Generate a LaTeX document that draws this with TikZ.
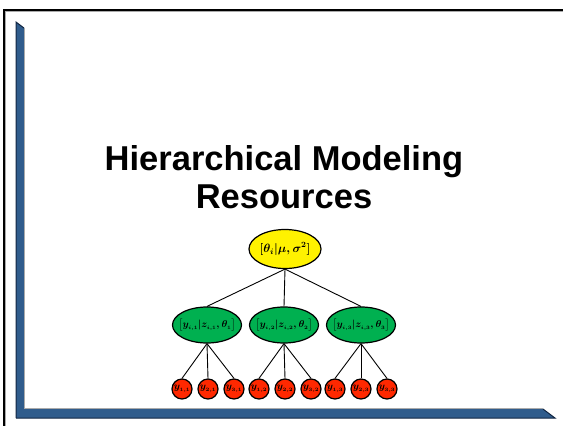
\documentclass[tikz,border=0pt]{standalone}
\usepackage{fontspec}
\setmainfont{Liberation Serif}
\newfontfamily\titlefont{Liberation Sans}
\usetikzlibrary{shapes.geometric}
\definecolor{barblue}{RGB}{48,92,140}
\definecolor{bardark}{RGB}{18,38,66}
\definecolor{nodegreen}{RGB}{0,176,80}
\definecolor{nodered}{RGB}{255,40,0}
\definecolor{shadowgray}{RGB}{170,170,170}
\tikzset{
  topnode/.style={ellipse, draw=black, line width=1.2pt, fill=yellow, minimum width=72, minimum height=39, inner xsep=-8pt, inner ysep=-4pt, font=\fontsize{12}{14}\selectfont\boldmath},
  midnode/.style={ellipse, draw=black, line width=1.2pt, fill=nodegreen, minimum width=69, minimum height=36, inner xsep=-10pt, inner ysep=-4pt, font=\fontsize{10}{11}\selectfont\boldmath},
  leafnode/.style={circle, draw=black, line width=1.2pt, fill=nodered, minimum size=20, inner sep=-4pt, font=\fontsize{10}{10}\selectfont\boldmath},
  link/.style={line width=0.9pt, black},
}
\begin{document}
\begin{tikzpicture}[x=1pt,y=-1pt]
\useasboundingbox (0,0) rectangle (563,426);
% frame
\draw[shadowgray, line width=1pt] (5.5,426) -- (5.5,11.5) -- (563,11.5);
\draw[black, line width=2pt] (4,426) -- (4,10) -- (563,10);
% blue bar
\fill[barblue] (16,22) -- (24,28) -- (24,409) -- (543,409) -- (555,418) -- (16,418) -- cycle;
\draw[bardark, line width=1pt] (16,418) -- (16,22) -- (24,28);
\draw[bardark, line width=1pt] (16,418) -- (555,418) -- (543,409);
\draw[shadowgray, line width=1pt] (24.5,28) -- (24.5,408.5) -- (543,408.5);
% title
\node[font=\titlefont\bfseries\fontsize{34.5}{38}\selectfont, anchor=base] (t1) at (284,170) {Hierarchical Modeling};
\node[font=\titlefont\bfseries\fontsize{34.5}{38}\selectfont, anchor=base] (t2) at (284,208) {Resources};
% tree
\node[topnode] (top) at (285,249) {$\bigl[\theta_i|\mu,\sigma^2\bigr]$};
\node[midnode] (m1) at (207,325) {$\bigl[y_{\scriptscriptstyle i,1}|z_{\scriptscriptstyle i,1},\theta_{\scriptscriptstyle 1}\bigr]$};
\node[midnode] (m2) at (284,325) {$\bigl[y_{\scriptscriptstyle i,2}|z_{\scriptscriptstyle i,2},\theta_{\scriptscriptstyle 2}\bigr]$};
\node[midnode] (m3) at (361,325) {$\bigl[y_{\scriptscriptstyle i,3}|z_{\scriptscriptstyle i,3},\theta_{\scriptscriptstyle 3}\bigr]$};
\node[leafnode] (l11) at (182,389) {$y_{\scriptscriptstyle 1,1}$};
\node[leafnode] (l21) at (208,389) {$y_{\scriptscriptstyle 2,1}$};
\node[leafnode] (l31) at (234,389) {$y_{\scriptscriptstyle 3,1}$};
\node[leafnode] (l12) at (259,389) {$y_{\scriptscriptstyle 1,2}$};
\node[leafnode] (l22) at (285,389) {$y_{\scriptscriptstyle 2,2}$};
\node[leafnode] (l32) at (311,389) {$y_{\scriptscriptstyle 3,2}$};
\node[leafnode] (l13) at (335,389) {$y_{\scriptscriptstyle 1,3}$};
\node[leafnode] (l23) at (361,389) {$y_{\scriptscriptstyle 2,3}$};
\node[leafnode] (l33) at (387,389) {$y_{\scriptscriptstyle 3,3}$};
\foreach \m in {m1,m2,m3} \draw[link] (top.south) -- (\m.north);
\foreach \l in {l11,l21,l31} \draw[link] (m1.south) -- (\l.north);
\foreach \l in {l12,l22,l32} \draw[link] (m2.south) -- (\l.north);
\foreach \l in {l13,l23,l33} \draw[link] (m3.south) -- (\l.north);
\end{tikzpicture}
\end{document}
